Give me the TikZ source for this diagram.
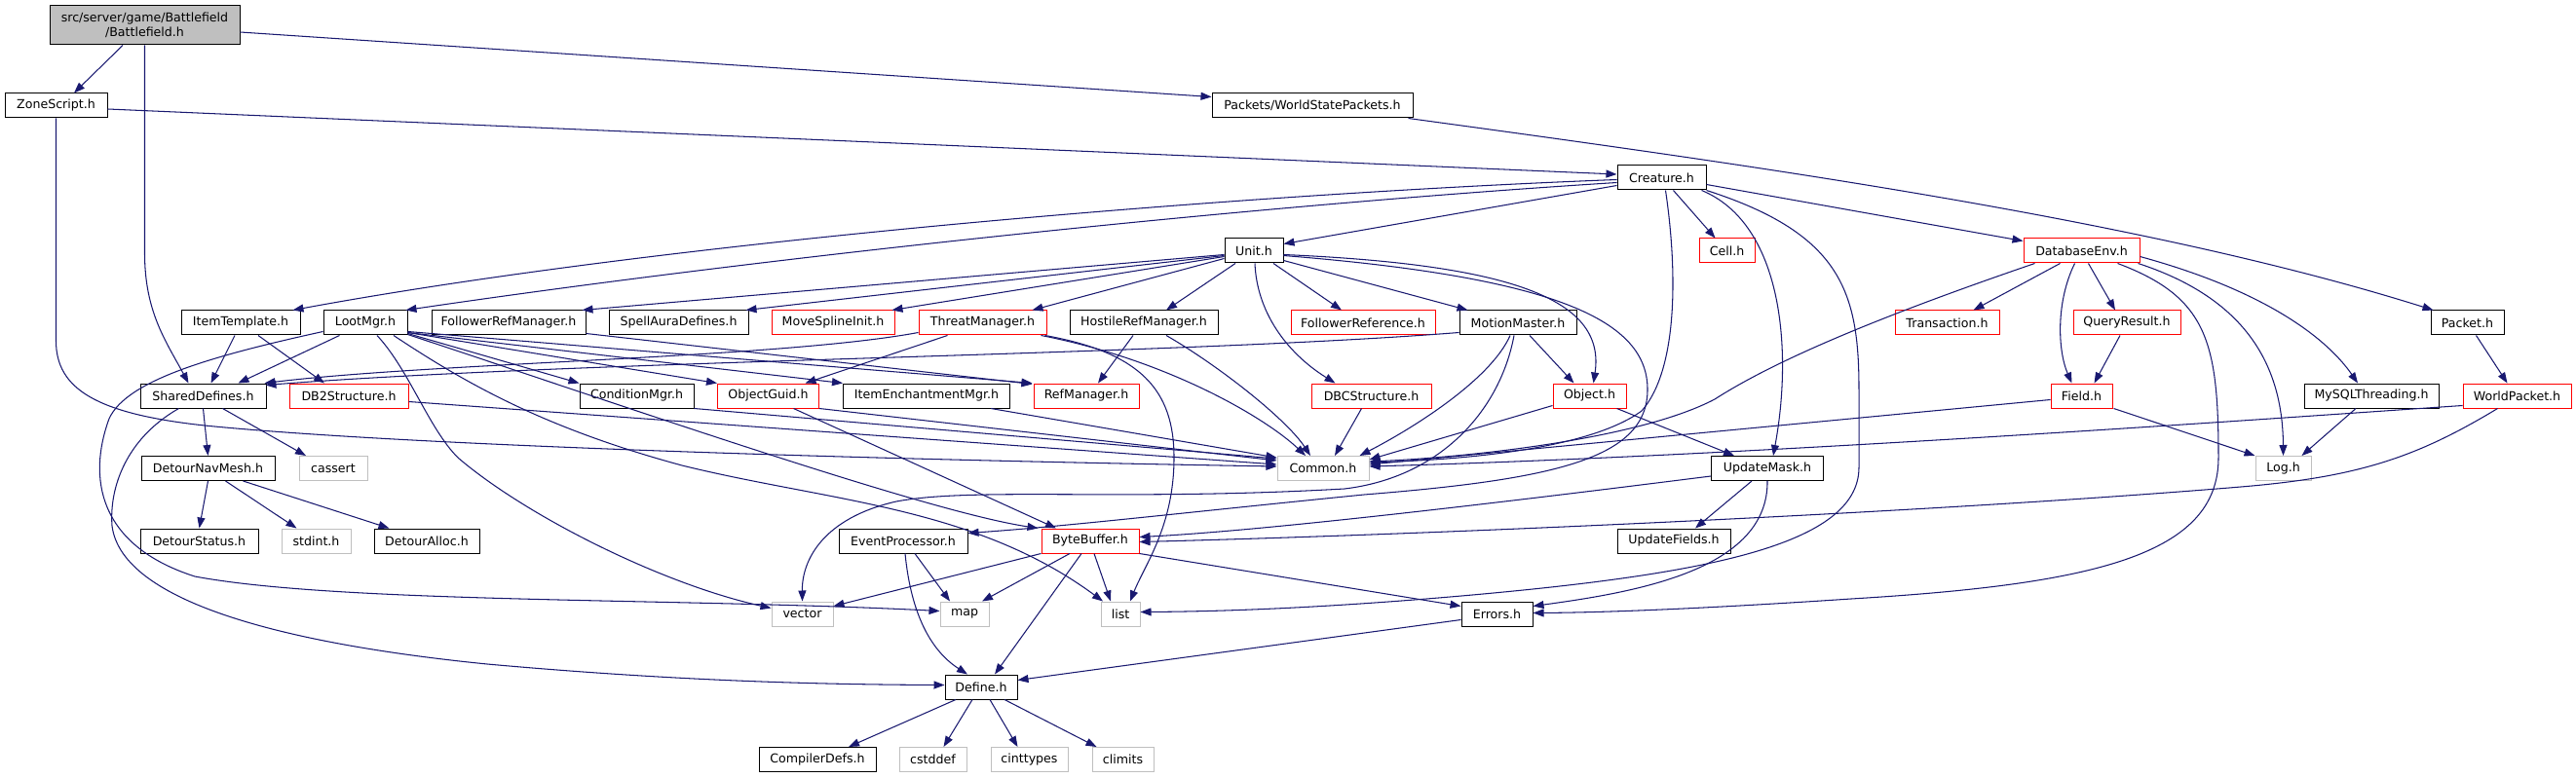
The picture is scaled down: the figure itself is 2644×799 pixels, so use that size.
\documentclass[tikz,border=0pt]{standalone}
\usepackage{fontspec}
\setmainfont{DejaVu Sans}
\usetikzlibrary{arrows.meta}
\definecolor{edgeblue}{HTML}{191970}
\definecolor{sysgrey}{HTML}{BFBFBF}
\definecolor{trunc}{HTML}{FF0000}
\begin{document}
\begin{tikzpicture}[x=1pt,y=-1pt,
  nbox/.style={draw=black, line width=1pt, fill=white, minimum height=25pt, inner sep=0pt,
               font=\fontsize{12.6}{15}\selectfont},
  rbox/.style={nbox, draw=trunc},
  gbox/.style={nbox, draw=sysgrey},
  bw/.style={minimum width=#1pt},
  dep/.style={draw=edgeblue, line width=1.05pt, -{Triangle[length=11pt,width=8pt]}}]
\fill[white] (0,0) rectangle (2644,799);
\useasboundingbox (0,0) rectangle (2644,799);

% row 0-3
\node[nbox,bw=195,minimum height=40pt,fill=sysgrey,align=center] (bf) at (148.5,26) {src/server/game/Battlefield\\/Battlefield.h};
\node[nbox,bw=105] (zs) at (57.5,108.5) {ZoneScript.h};
\node[nbox,bw=206] (wsp) at (1347,108.5) {Packets/WorldStatePackets.h};
\node[nbox,bw=91] (cr) at (1705.5,182.5) {Creature.h};
\node[nbox,bw=60] (un) at (1287,257.5) {Unit.h};
\node[rbox,bw=57] (cell) at (1772.5,257.5) {Cell.h};
\node[rbox,bw=119] (dbe) at (2136.5,257.5) {DatabaseEnv.h};
% row 4
\node[nbox,bw=122] (it) at (247,331.5) {ItemTemplate.h};
\node[nbox,bw=86] (lm) at (375,331.5) {LootMgr.h};
\node[nbox,bw=158] (frm) at (522,331.5) {FollowerRefManager.h};
\node[nbox,bw=143] (sad) at (696.5,331.5) {SpellAuraDefines.h};
\node[rbox,bw=126] (msi) at (855,331.5) {MoveSplineInit.h};
\node[rbox,bw=131] (thr) at (1008.5,331.5) {ThreatManager.h};
\node[nbox,bw=152] (hrm) at (1174,331.5) {HostileRefManager.h};
\node[rbox,bw=148] (fref) at (1399,331.5) {FollowerReference.h};
\node[nbox,bw=120] (mm) at (1558,331.5) {MotionMaster.h};
\node[rbox,bw=107] (tr) at (1998.5,331.5) {Transaction.h};
\node[rbox,bw=110] (qr) at (2183,331.5) {QueryResult.h};
\node[nbox,bw=75] (pk) at (2532.5,331.5) {Packet.h};
% row 5
\node[nbox,bw=129] (sd) at (208.5,406.5) {SharedDefines.h};
\node[rbox,bw=122] (db2) at (358,406.5) {DB2Structure.h};
\node[nbox,bw=117] (cond) at (653.5,406.5) {ConditionMgr.h};
\node[rbox,bw=104] (og) at (788.5,406.5) {ObjectGuid.h};
\node[nbox,bw=171] (iem) at (951,406.5) {ItemEnchantmentMgr.h};
\node[rbox,bw=108] (ref) at (1115,406.5) {RefManager.h};
\node[rbox,bw=123] (dbc) at (1407.5,406.5) {DBCStructure.h};
\node[rbox,bw=75] (obj) at (1631.5,406.5) {Object.h};
\node[rbox,bw=63] (fld) at (2136.5,406.5) {Field.h};
\node[nbox,bw=138] (mysql) at (2434,406.5) {MySQLThreading.h};
\node[rbox,bw=111] (wp) at (2583.5,406.5) {WorldPacket.h};
% row 6
\node[nbox,bw=137] (dnm) at (213.5,481) {DetourNavMesh.h};
\node[gbox,bw=70] (cas) at (342,481) {cassert};
\node[gbox,bw=94] (cm) at (1358,481) {Common.h};
\node[nbox,bw=115] (um) at (1814,481) {UpdateMask.h};
\node[gbox,bw=57] (log) at (2343.5,481) {Log.h};
% row 7
\node[nbox,bw=121] (dst) at (204.5,555.5) {DetourStatus.h};
\node[gbox,bw=71] (sti) at (324.5,555.5) {stdint.h};
\node[nbox,bw=108] (dal) at (438,555.5) {DetourAlloc.h};
\node[nbox,bw=132] (ep) at (927,555.5) {EventProcessor.h};
\node[rbox,bw=100] (bb) at (1119,555.5) {ByteBuffer.h};
\node[nbox,bw=116] (uf) at (1718,555.5) {UpdateFields.h};
% row 8
\node[gbox,bw=63] (vec) at (823.5,630.5) {vector};
\node[gbox,bw=50] (map) at (990,630.5) {map};
\node[gbox,bw=40] (lst) at (1150,630.5) {list};
\node[nbox,bw=73] (err) at (1536.5,630.5) {Errors.h};
% row 9-10
\node[nbox,bw=74] (def) at (1007,705.5) {Define.h};
\node[nbox,bw=120] (cd) at (839,780) {CompilerDefs.h};
\node[gbox,bw=69] (csd) at (957.5,780) {cstddef};
\node[gbox,bw=79] (cit) at (1056.5,780) {cinttypes};
\node[gbox,bw=63] (clm) at (1152.5,780) {climits};

% Battlefield
\draw[dep] ([xshift=-22.5pt]bf.south) -- ([xshift=18.5pt]zs.north);
\draw[dep] (bf.south) -- (148.5,260) .. controls (148.5,320) and (170,350) .. ([xshift=-15pt]sd.north);
\draw[dep] ([yshift=-7pt]bf.east) -- ([yshift=9pt]wsp.west);
% ZoneScript
\draw[dep] ([yshift=-3.5pt]zs.east) -- ([yshift=3.5pt]cr.west);
\draw[dep] (zs.south) -- (57.5,350) .. controls (57.5,400) and (100,425) .. (210,437) .. controls (420,458) and (900,472) .. ([yshift=2pt]cm.west);
% WorldStatePackets
\draw[dep] ([xshift=-5pt]wsp.south east) .. controls (1800,170) and (2200,225) .. ([xshift=3pt]pk.north west);
% Creature
\draw[dep] ([yshift=-2pt]cr.west) .. controls (1300,198) and (700,245) .. ([xshift=-8pt]it.north east);
\draw[dep] ([yshift=-5pt]cr.west) .. controls (1300,210) and (800,262) .. ([xshift=-2pt]lm.north east);
\draw[dep] ([yshift=-8pt]cr.west) -- ([yshift=7pt]un.east);
\draw[dep] ([xshift=12pt]cr.south) -- ([xshift=-12pt]cell.north);
\draw[dep] ([yshift=-7pt]cr.east) -- ([yshift=10pt]dbe.west);
\draw[dep] ([xshift=41pt]cr.south) .. controls (1830,230) and (1840,360) .. ([xshift=6pt]um.north);
\draw[dep] (cr.south east) .. controls (1890,240) and (1908,300) .. (1908,400) -- (1908,480) .. controls (1908,560) and (1750,590) .. (1500,612) .. controls (1350,625) and (1250,628) .. ([yshift=2pt]lst.east);
\draw[dep] ([xshift=4pt]cr.south) .. controls (1722,280) and (1722,380) .. (1685,422) .. controls (1630,462) and (1500,472) .. ([yshift=6pt]cm.east);
% Unit
\draw[dep] ([yshift=-4pt]un.west) -- ([xshift=-4pt]frm.north east);
\draw[dep] ([yshift=-5pt]un.west) -- ([xshift=-3pt]sad.north east);
\draw[dep] ([yshift=-6pt]un.west) -- ([xshift=-3pt]msi.north east);
\draw[dep] ([yshift=-8pt]un.west) -- ([xshift=-15pt]thr.north east);
\draw[dep] ([xshift=-19pt]un.south) -- ([xshift=23pt]hrm.north);
\draw[dep] ([xshift=20pt]un.south) -- ([xshift=-22pt]fref.north);
\draw[dep] ([yshift=-10pt]un.east) -- ([xshift=9pt]mm.north west);
\draw[dep] ([xshift=1pt]un.south) .. controls (1290,320) and (1320,362) .. ([xshift=-37pt]dbc.north);
\draw[dep] ([yshift=-4pt]un.east) .. controls (1560,272) and (1648,310) .. ([xshift=4pt]obj.north);
\draw[dep] ([yshift=-5pt]un.east) .. controls (1600,285) and (1691,330) .. (1691,400) .. controls (1691,470) and (1600,492) .. (1400,508) .. controls (1200,528) and (1100,540) .. ([yshift=8pt]ep.east);
% ItemTemplate
\draw[dep] ([xshift=-6pt]it.south) -- ([xshift=8pt]sd.north);
\draw[dep] ([xshift=18pt]it.south) -- ([xshift=-25pt]db2.north);
% LootMgr
\draw[dep] ([xshift=-26.5pt]lm.south) -- ([xshift=36pt]sd.north);
\draw[dep] ([yshift=-11pt]lm.east) -- (cond.north west);
\draw[dep] ([yshift=-10pt]lm.east) -- (og.north west);
\draw[dep] ([yshift=-10pt]lm.east) -- (iem.north west);
\draw[dep] ([yshift=-9pt]lm.east) -- ([xshift=-1pt]ref.north west);
\draw[dep] ([yshift=-12pt]lm.east) .. controls (650,420) and (950,525) .. ([xshift=-3pt]bb.north west);
\draw[dep] ([xshift=29pt]lm.south) .. controls (480,395) and (560,440) .. (700,478) .. controls (850,515) and (1000,520) .. ([xshift=-18pt]lst.north);
\draw[dep] ([xshift=12pt]lm.south) .. controls (420,380) and (440,440) .. (470,470) .. controls (540,530) and (680,600) .. ([yshift=6pt]vec.west);
\draw[dep] ([yshift=-9pt]lm.west) .. controls (220,365) and (130,390) .. (112,430) .. controls (90,490) and (100,560) .. (200,592) .. controls (350,620) and (700,614) .. ([yshift=3pt]map.west);
% SharedDefines
\draw[dep] (sd.south) -- (dnm.north);
\draw[dep] ([xshift=20pt]sd.south) -- ([xshift=-28pt]cas.north);
\draw[dep] ([xshift=-25pt]sd.south) .. controls (130,450) and (112,500) .. (115,540) .. controls (125,620) and (300,662) .. (500,682) .. controls (700,700) and (850,703) .. ([yshift=2pt]def.west);
% DetourNavMesh
\draw[dep] (dnm.south) -- (dst.north);
\draw[dep] ([xshift=18pt]dnm.south) -- ([xshift=-20pt]sti.north);
\draw[dep] ([xshift=36pt]dnm.south) -- ([xshift=16pt]dal.north west);
% FollowerRefManager
\draw[dep] ([yshift=-11pt]frm.east) -- ([xshift=-1pt,yshift=-1pt]ref.north west);
% ThreatManager
\draw[dep] ([yshift=-10pt]thr.west) .. controls (800,368) and (450,372) .. ([xshift=-2pt]sd.north east);
\draw[dep] ([xshift=-36pt]thr.south) -- ([xshift=38pt]og.north);
\draw[dep] ([xshift=-6pt]thr.south east) .. controls (1200,370) and (1300,430) .. ([xshift=-18pt]cm.north);
\draw[dep] ([xshift=-2pt]thr.south east) .. controls (1170,362) and (1205,400) .. (1205,470) .. controls (1205,540) and (1175,580) .. ([xshift=10pt]lst.north);
% HostileRefManager
\draw[dep] ([xshift=-11pt]hrm.south) -- ([xshift=12pt]ref.north);
\draw[dep] ([xshift=23pt]hrm.south) .. controls (1250,375) and (1320,430) .. ([xshift=-13pt]cm.north);
% MotionMaster
\draw[dep] ([yshift=-10pt]mm.west) .. controls (1200,365) and (600,370) .. ([xshift=-1pt,yshift=-2pt]sd.north east);
\draw[dep] ([xshift=12pt]mm.south) -- ([xshift=-16pt]obj.north);
\draw[dep] ([xshift=-8pt]mm.south) .. controls (1530,390) and (1450,440) .. ([xshift=-10pt]cm.north east);
\draw[dep] ([xshift=-4pt]mm.south) .. controls (1540,420) and (1480,490) .. (1380,502) .. controls (1150,515) and (1000,500) .. (920,515) .. controls (845,532) and (823,575) .. (vec.north);
% DBCStructure, Object
\draw[dep] ([xshift=-10pt]dbc.south) -- ([xshift=12pt]cm.north);
\draw[dep] ([yshift=-10pt]obj.west) -- ([yshift=9pt]cm.east);
\draw[dep] ([xshift=28pt]obj.south) -- ([xshift=-34pt]um.north);
% row 5 to Common / ByteBuffer
\draw[dep] ([yshift=-6pt]db2.east) -- ([yshift=4pt]cm.west);
\draw[dep] (cond.south east) -- ([yshift=10pt]cm.west);
\draw[dep] (og.south east) -- ([yshift=8pt]cm.west);
\draw[dep] ([xshift=26pt]og.south) -- ([xshift=-35pt]bb.north);
\draw[dep] ([xshift=-20pt]iem.south east) -- ([yshift=11pt]cm.west);
% UpdateMask
\draw[dep] ([xshift=-16pt]um.south) -- ([xshift=22pt]uf.north);
\draw[dep] ([yshift=-8pt]um.west) .. controls (1550,515) and (1300,545) .. ([yshift=4pt]bb.east);
\draw[dep] (um.south) .. controls (1815,585) and (1680,608) .. ([yshift=8pt]err.east);
% EventProcessor
\draw[dep] ([xshift=12pt]ep.south) -- ([xshift=-15pt]map.north);
\draw[dep] ([xshift=2pt]ep.south) .. controls (935,630) and (955,668) .. ([xshift=-14pt]def.north);
% ByteBuffer
\draw[dep] (bb.south west) -- ([yshift=8pt]vec.east);
\draw[dep] ([xshift=-21pt]bb.south) -- ([xshift=18pt]map.north);
\draw[dep] ([xshift=4pt]bb.south) -- ([xshift=-10pt]lst.north);
\draw[dep] ([xshift=-9pt]bb.south) -- ([xshift=14pt]def.north);
\draw[dep] (bb.south east) -- ([yshift=8pt]err.west);
% Errors, Define
\draw[dep] ([yshift=-6pt]err.west) -- ([yshift=7pt]def.east);
\draw[dep] ([xshift=-26pt]def.south) -- ([xshift=32pt]cd.north);
\draw[dep] ([xshift=-9pt]def.south) -- ([xshift=11pt]csd.north);
\draw[dep] ([xshift=9pt]def.south) -- ([xshift=-12pt]cit.north);
\draw[dep] ([xshift=24pt]def.south) -- ([xshift=-27pt]clm.north);
% DatabaseEnv
\draw[dep] ([xshift=-22pt]dbe.south) -- ([xshift=27pt]tr.north);
\draw[dep] ([xshift=7pt]dbe.south) -- ([xshift=-12pt]qr.north);
\draw[dep] ([xshift=-7pt]dbe.south) .. controls (2110,310) and (2112,360) .. ([xshift=-10pt]fld.north);
\draw[dep] ([xshift=-2pt]dbe.south east) .. controls (2300,305) and (2343,370) .. (log.north);
\draw[dep] ([yshift=-6pt]dbe.east) .. controls (2330,300) and (2390,350) .. ([xshift=-14pt]mysql.north);
\draw[dep] ([xshift=37pt]dbe.south) .. controls (2265,305) and (2277,350) .. (2277,470) .. controls (2277,570) and (2150,600) .. (1900,615) .. controls (1750,625) and (1650,629) .. ([yshift=1pt]err.east);
\draw[dep] ([xshift=-48pt]dbe.south) .. controls (1950,318) and (1830,365) .. (1760,410) .. controls (1680,452) and (1500,470) .. ([yshift=7pt]cm.east);
% QueryResult, Field, MySQLThreading
\draw[dep] ([xshift=-7pt]qr.south) -- ([xshift=13pt]fld.north);
\draw[dep] ([yshift=-4pt]fld.west) -- ([yshift=4pt]cm.east);
\draw[dep] ([xshift=1pt]fld.south east) -- (log.north west);
\draw[dep] ([xshift=-16pt]mysql.south) -- ([xshift=-10pt]log.north east);
% Packet, WorldPacket
\draw[dep] ([xshift=9pt]pk.south) -- ([xshift=-10pt]wp.north);
\draw[dep] ([yshift=-10pt]wp.west) .. controls (2300,432) and (1800,468) .. ([yshift=2pt]cm.east);
\draw[dep] ([xshift=-20pt]wp.south) .. controls (2480,470) and (2420,490) .. (2300,500) .. controls (2000,525) and (1500,548) .. ([yshift=-1pt]bb.east);
\end{tikzpicture}
\end{document}
